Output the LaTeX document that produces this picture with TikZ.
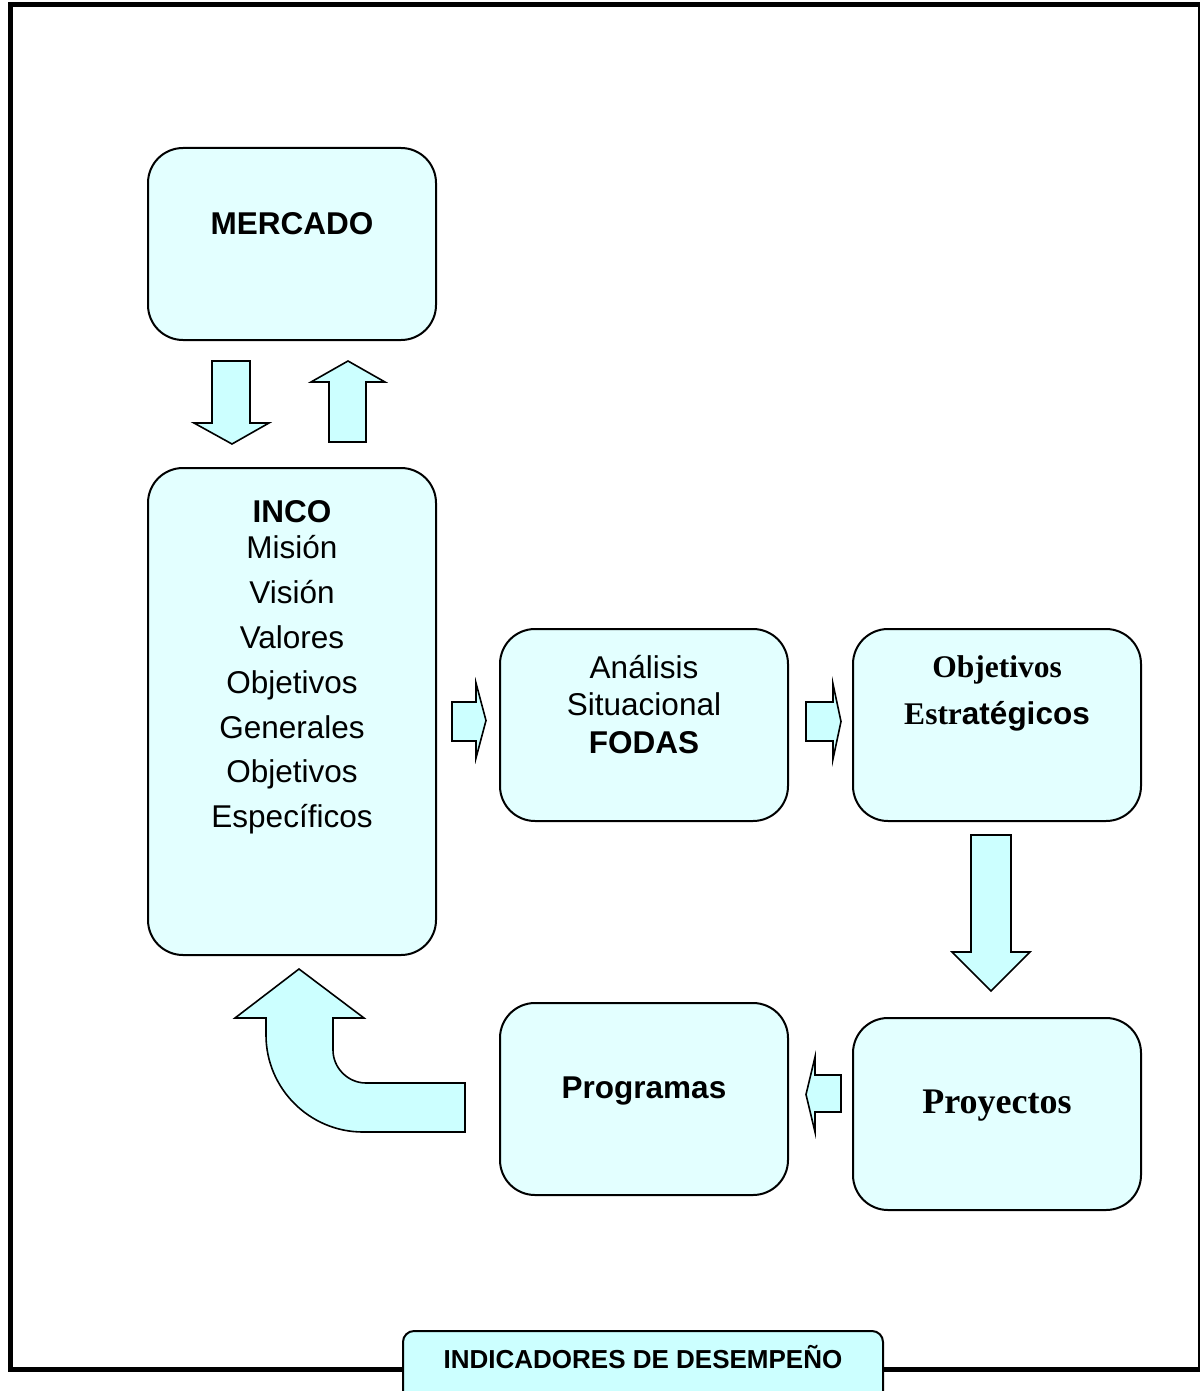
\documentclass[tikz,border=0pt]{standalone}
\usepackage{fontspec}
\setmainfont{Liberation Sans}
\newfontfamily\tms{Liberation Serif}
\definecolor{boxfill}{RGB}{227,255,255}
\definecolor{arrfill}{RGB}{204,255,255}
\begin{document}
\begin{tikzpicture}[x=1pt,y=-1pt,
  box/.style={draw=black,line width=2pt,fill=boxfill,rounded corners=35pt,minimum width=288pt,minimum height=192pt,inner sep=0pt},
  blockarrow/.style={draw=black,line width=1.6pt,fill=arrfill,line join=miter},
  txt/.style={anchor=base,inner sep=0pt,font=\fontsize{31.5}{37}\selectfont},
  btxt/.style={txt,font=\fontsize{31.5}{37}\selectfont\bfseries},
  frameline/.style={line width=5pt,black}]
\useasboundingbox (0,0) rectangle (1200,1391);
% frame
\draw[frameline] (8,5) -- (1200,5);
\draw[frameline] (10,3) -- (10,1371);
\draw[frameline] (8,1369) -- (1200,1369);
\draw[line width=2pt] (1198.5,5) -- (1198.5,1369);
% boxes
\node[box] (merc) at (292,244) {};
\node[box,minimum height=487pt] (inco) at (292,711.5) {};
\node[box] (fodas) at (644,725) {};
\node[box] (objest) at (997,725) {};
\node[box] (proy) at (997,1114) {};
\node[box] (prog) at (644,1099) {};
% texts
\node[btxt] (tmerc) at (292,234) {MERCADO};
\node[btxt] (tinco) at (292,522) {INCO};
\node[txt] (t1) at (292,558) {Misión};
\node[txt] (t2) at (292,603) {Visión};
\node[txt] (t3) at (292,648) {Valores};
\node[txt] (t4) at (292,693) {Objetivos};
\node[txt] (t5) at (292,738) {Generales};
\node[txt] (t6) at (292,782) {Objetivos};
\node[txt] (t7) at (292,827) {Específicos};
\node[txt] (f1) at (644,678) {Análisis};
\node[txt] (f2) at (644,715) {Situacional};
\node[btxt] (f3) at (644,753) {FODAS};
\node[txt,font=\fontsize{31.5}{37}\selectfont\tms\bfseries] (o1) at (997,677) {Objetivos};
\node[txt,font=\fontsize{31.5}{37}\selectfont\bfseries] (o2) at (997,724) {{\tms Estr}atégicos};
\node[txt,font=\fontsize{36}{40}\selectfont\tms\bfseries] (tproy) at (997,1113) {Proyectos};
\node[btxt] (tprog) at (644,1098) {Programas};
% block arrows
\draw[blockarrow] (212,361) -- (250,361) -- (250,423) -- (269,423) -- (232,444) -- (194,423) -- (212,423) -- cycle;
\draw[blockarrow] (348,361) -- (385,382) -- (366,382) -- (366,442) -- (329,442) -- (329,382) -- (311,382) -- cycle;
\draw[blockarrow] (452,702) -- (476,702) -- (476,683) -- (486,720.5) -- (476,758) -- (476,741) -- (452,741) -- cycle;
\draw[blockarrow] (806,702) -- (833,702) -- (833,684) -- (841,721.5) -- (833,759) -- (833,741) -- (806,741) -- cycle;
\draw[blockarrow] (971,835) -- (1011,835) -- (1011,952) -- (1030,952) -- (991,991) -- (952,952) -- (971,952) -- cycle;
\draw[blockarrow] (841,1075) -- (815,1075) -- (815,1057) -- (806,1094.5) -- (815,1132) -- (815,1112) -- (841,1112) -- cycle;
\draw[blockarrow] (299,969) -- (364,1018) -- (333,1018) -- (333,1050)
  .. controls (333,1068) and (348,1083) .. (366,1083) -- (465,1083) -- (465,1132) -- (363,1132)
  .. controls (309.5,1132) and (266,1088.5) .. (266,1035) -- (266,1018) -- (235,1018) -- cycle;
% indicators
\draw[draw=black,line width=2pt,fill=arrfill,rounded corners=11pt] (403,1420) -- (403,1331) -- (883,1331) -- (883,1420);
\node[txt,font=\fontsize{26}{30}\selectfont\bfseries] (ind) at (643,1368) {INDICADORES DE DESEMPEÑO};
\end{tikzpicture}
\end{document}
